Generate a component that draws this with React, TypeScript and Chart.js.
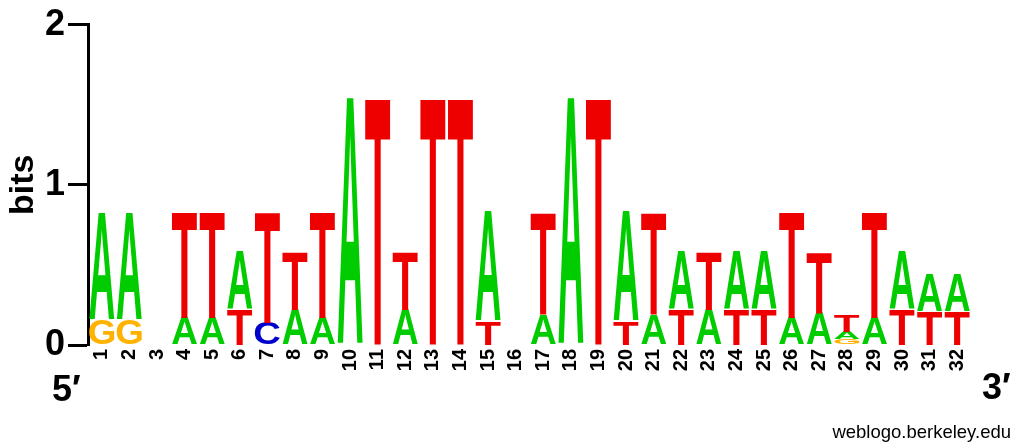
import React, { useEffect, useRef } from 'react';
import { Chart, registerables } from 'chart.js';

Chart.register(...registerables);

// ---- data ----
const positions = [
  '1', '2', '3', '4', '5', '6', '7', '8', '9', '10', '11', '12', '13', '14', '15', '16',
  '17', '18', '19', '20', '21', '22', '23', '24', '25', '26', '27', '28', '29', '30', '31', '32',
];
const bitsA = [0.67, 0.67, 0, 0.17, 0.17, 0.36, 0, 0.22, 0.17, 1.545, 0, 0.22, 0, 0, 0.68, 0,
  0.19, 1.545, 0, 0.68, 0.19, 0.36, 0.22, 0.36, 0.36, 0.17, 0.2, 0.045, 0.17, 0.36, 0.23, 0.23];
const bitsC = [0, 0, 0, 0, 0, 0, 0.14, 0, 0, 0, 0, 0, 0, 0, 0, 0,
  0, 0, 0, 0, 0, 0, 0, 0, 0, 0, 0, 0, 0, 0, 0, 0];
const bitsG = [0.16, 0.16, 0, 0, 0, 0, 0, 0, 0, 0, 0, 0, 0, 0, 0, 0,
  0, 0, 0, 0, 0, 0, 0, 0, 0, 0, 0, 0.035, 0, 0, 0, 0];
const bitsT = [0, 0, 0, 0.66, 0.66, 0.22, 0.69, 0.36, 0.66, 0, 1.545, 0.36, 1.545, 1.545, 0.15, 0,
  0.64, 0, 1.545, 0.15, 0.64, 0.22, 0.36, 0.22, 0.22, 0.66, 0.38, 0.1, 0.66, 0.22, 0.21, 0.21];
const yTicks = [0, 1, 2];
const yTitle = 'bits';
const leftEndLabel = '5\u2032';
const rightEndLabel = '3\u2032';
const creditText = 'weblogo.berkeley.edu';

// ---- styles ----
const letterColors: Record<string, string> = {
  A: '#00cc00',
  C: '#0000cc',
  G: '#ffb300',
  T: '#ee0000',
};
const FONT = "'Liberation Sans', Arial, Helvetica, sans-serif";

// build stacked layers (smallest letter at the bottom)
const alphabet = ['A', 'C', 'G', 'T'];
const table: Record<string, number[]> = { A: bitsA, C: bitsC, G: bitsG, T: bitsT };
const NL = 3;
const layerLetters: string[][] = Array.from({ length: NL }, () => positions.map(() => ''));
const layerBits: number[][] = Array.from({ length: NL }, () => positions.map(() => 0));
positions.forEach((_, j) => {
  const items = alphabet
    .map((l) => ({ l, v: table[l][j] }))
    .filter((d) => d.v > 0)
    .sort((a, b) => a.v - b.v);
  items.forEach((d, k) => {
    layerLetters[k][j] = d.l;
    layerBits[k][j] = d.v;
  });
});

const letterPlugin = {
  id: 'letterGlyphs',
  afterDatasetsDraw(chart: any) {
    const ctx = chart.ctx as CanvasRenderingContext2D;
    ctx.save();
    ctx.font = `bold 200px ${FONT}`;
    ctx.textAlign = 'left';
    ctx.textBaseline = 'alphabetic';
    chart.data.datasets.forEach((ds: any, i: number) => {
      const meta = chart.getDatasetMeta(i);
      meta.data.forEach((el: any, j: number) => {
        const letter = ds.letters[j];
        if (!letter) return;
        const p = el.getProps(['x', 'y', 'base', 'width'], true);
        const top = Math.min(p.y, p.base);
        const h = Math.abs(p.base - p.y);
        if (h <= 0) return;
        const w = p.width;
        const m = ctx.measureText(letter);
        const gl = m.actualBoundingBoxLeft;
        const gr = m.actualBoundingBoxRight;
        const ga = m.actualBoundingBoxAscent;
        const gd = m.actualBoundingBoxDescent;
        const gw = gl + gr;
        const gh = ga + gd;
        ctx.save();
        ctx.translate(p.x - w / 2, top);
        ctx.scale(w / gw, h / gh);
        ctx.fillStyle = letterColors[letter];
        ctx.fillText(letter, gl, ga);
        ctx.restore();
      });
    });
    ctx.restore();
  },
  afterDraw(chart: any) {
    const ctx = chart.ctx as CanvasRenderingContext2D;
    ctx.save();
    ctx.fillStyle = '#000';
    ctx.textBaseline = 'alphabetic';
    ctx.font = `bold 36px ${FONT}`;
    ctx.textAlign = 'left';
    ctx.fillText(leftEndLabel, 52, 401);
    ctx.fillText(rightEndLabel, 982, 399);
    ctx.font = `18.5px ${FONT}`;
    ctx.textAlign = 'right';
    ctx.fillText(creditText, 1011, 438);
    ctx.restore();
  },
};

export default function App() {
  const ref = useRef<HTMLCanvasElement | null>(null);
  useEffect(() => {
    if (!ref.current) return;
    const chart = new Chart(ref.current, {
      type: 'bar',
      data: {
        labels: positions,
        datasets: layerBits.map((vals, k) => ({
          label: `layer${k}`,
          data: vals,
          letters: layerLetters[k],
          backgroundColor: 'rgba(0,0,0,0)',
          borderWidth: 0,
          categoryPercentage: 1,
          barPercentage: 0.91,
        })) as any,
      },
      options: {
        responsive: false,
        animation: false,
        layout: { padding: { left: 0, right: 53, top: 24, bottom: 0 } },
        plugins: {
          legend: { display: false },
          tooltip: { enabled: false },
          title: { display: false },
        },
        scales: {
          x: {
            stacked: true,
            grid: { display: false, drawTicks: false },
            border: { display: false },
            ticks: {
              autoSkip: false,
              minRotation: 90,
              maxRotation: 90,
              padding: 4,
              color: '#000',
              font: { family: FONT, size: 20, weight: 'bold' },
            },
            afterFit: (s: any) => {
              s.height = 102;
            },
          },
          y: {
            stacked: true,
            min: 0,
            max: 2,
            afterBuildTicks: (s: any) => {
              s.ticks = yTicks.map((v) => ({ value: v }));
            },
            grid: {
              drawOnChartArea: false,
              drawTicks: true,
              tickLength: 20,
              tickWidth: 3,
              tickColor: '#000',
            },
            border: { display: true, color: '#000', width: 3 },
            ticks: {
              padding: 3,
              color: '#000',
              font: { family: FONT, size: 36, weight: 'bold' },
            },
            title: {
              display: true,
              text: yTitle,
              color: '#000',
              padding: { top: 3, bottom: 0 },
              font: { family: FONT, size: 34, weight: 'bold', lineHeight: 1.2 },
            },
            afterFit: (s: any) => {
              s.width = 88;
            },
          },
        },
      },
      plugins: [letterPlugin],
    });
    return () => chart.destroy();
  }, []);
  return (
    <div style={{ position: 'fixed', left: 0, top: 0, width: 1024, height: 447, background: '#fff' }}>
      <canvas ref={ref} width={1024} height={447} style={{ display: 'block' }} />
    </div>
  );
}
